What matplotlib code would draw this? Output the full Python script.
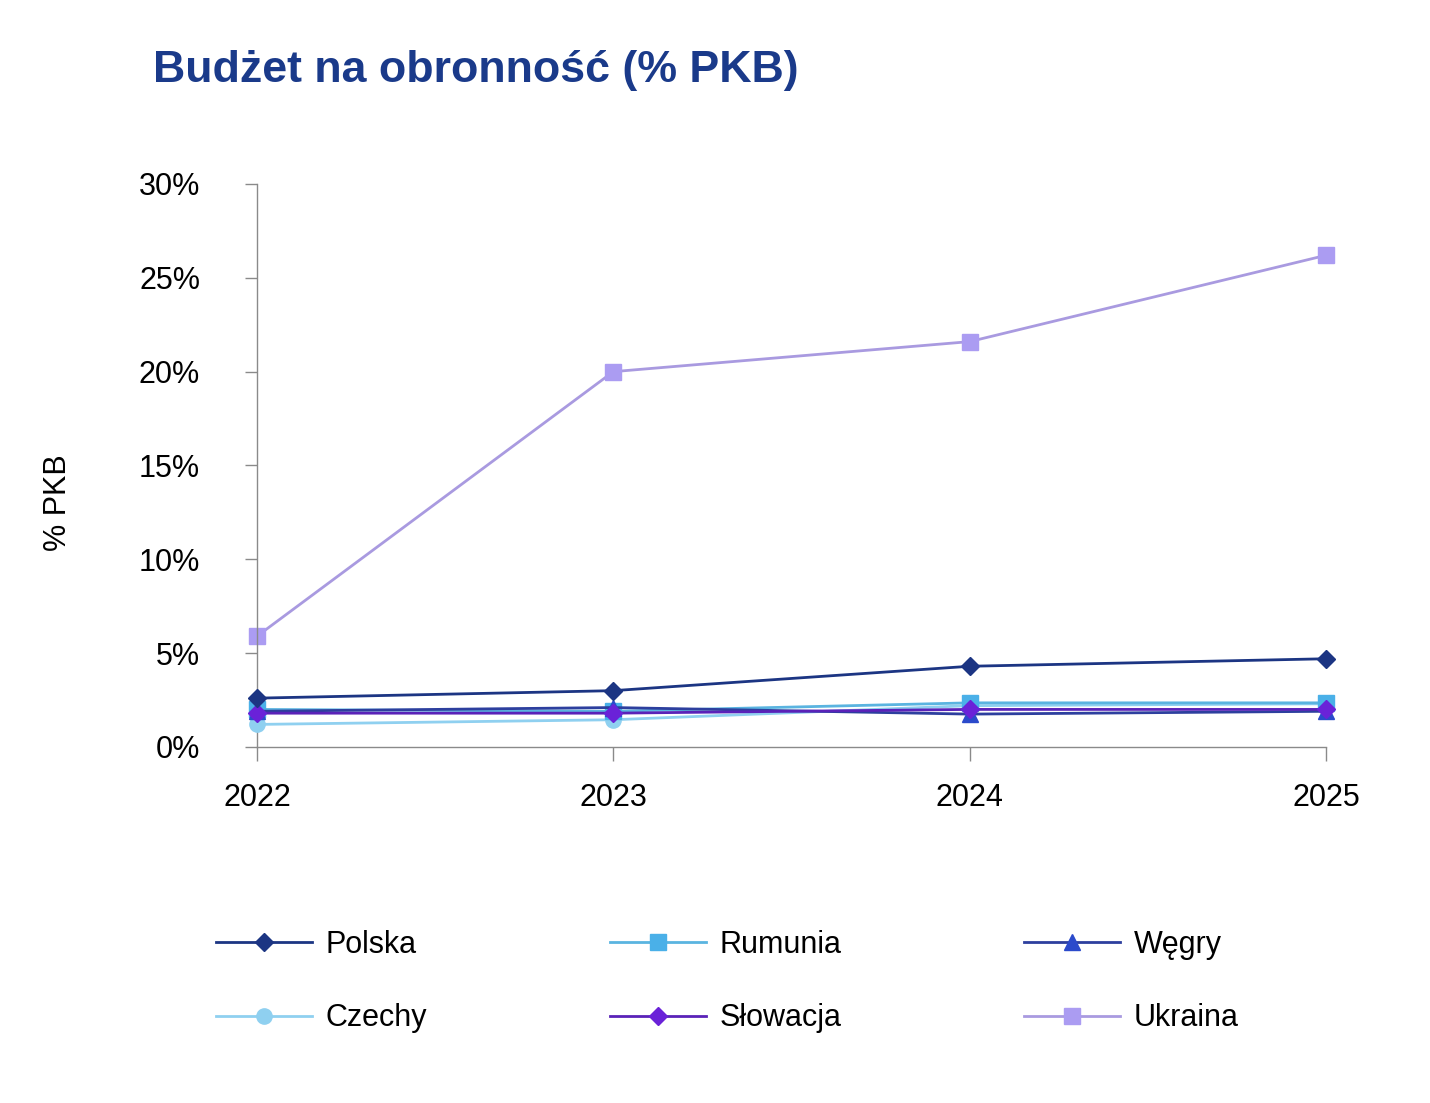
import matplotlib.pyplot as plt
from matplotlib.ticker import FuncFormatter

plt.rcParams['font.family'] = ['Liberation Sans', 'DejaVu Sans']

# data (% of GDP)
years = [2022, 2023, 2024, 2025]
polska = [2.6, 3.0, 4.3, 4.7]
rumunia = [2.0, 1.9, 2.35, 2.35]
wegry = [1.9, 2.1, 1.75, 1.9]
czechy = [1.2, 1.45, 2.2, 2.3]
slowacja = [1.8, 1.8, 2.0, 2.0]
ukraina = [5.9, 20.0, 21.6, 26.2]

fig = plt.figure(figsize=(14.3, 11.03), dpi=100)
ax = fig.add_axes([0.1797, 0.3228, 0.7476, 0.5104])

# order chosen so the 3-column legend reads row by row like the original
series = [
    ('Polska', polska, '#1c3583', '#1c3583', 'D'),
    ('Czechy', czechy, '#8fd0f0', '#8fd0f0', 'o'),
    ('Rumunia', rumunia, '#5ab4e0', '#4ab0e8', 's'),
    ('Słowacja', slowacja, '#5a22b8', '#6a22d8', 'D'),
    ('Węgry', wegry, '#2d3f9e', '#2b4acb', '^'),
    ('Ukraina', ukraina, '#a99ae0', '#ab9cf2', 's'),
]
z = {'Ukraina': 2, 'Czechy': 3, 'Rumunia': 4, 'Węgry': 5, 'Słowacja': 6, 'Polska': 7}
for name, vals, lc, mc, m in series:
    ms = 9 if m == 'D' else 11
    ax.plot(years, vals, color=lc, lw=2, marker=m, markersize=ms,
            markerfacecolor=mc, markeredgecolor=mc, label=name, zorder=z[name],
            clip_on=False)

ax.set_xlim(2022, 2025)
ax.set_ylim(0, 30)
ax.set_xticks(years)
ax.set_yticks(range(0, 31, 5))
ax.yaxis.set_major_formatter(FuncFormatter(lambda v, p: f'{int(v)}%'))

for s in ['top', 'right']:
    ax.spines[s].set_visible(False)
for s in ['left', 'bottom']:
    ax.spines[s].set_color('#8a8a8a')
    ax.spines[s].set_linewidth(1)
ax.tick_params(axis='y', length=9, width=1, color='#8a8a8a', pad=32, labelsize=22)
ax.tick_params(axis='x', length=10, width=1, color='#8a8a8a', pad=16, labelsize=22)

ax.set_ylabel('% PKB', fontsize=22)
ax.yaxis.set_label_coords(-0.172, 0.433)

fig.text(0.107, 0.936, 'Budżet na obronność (% PKB)', fontsize=32.2, fontweight='bold',
         color='#1a3a8a', va='center', ha='left')

leg = fig.legend(loc='upper left', bbox_to_anchor=(0.1316, 0.182), ncol=3, frameon=False,
                 fontsize=22, handlelength=3.15, handletextpad=0.45,
                 columnspacing=5.97, labelspacing=1.43)

fig.savefig('out.png', dpi=100)
